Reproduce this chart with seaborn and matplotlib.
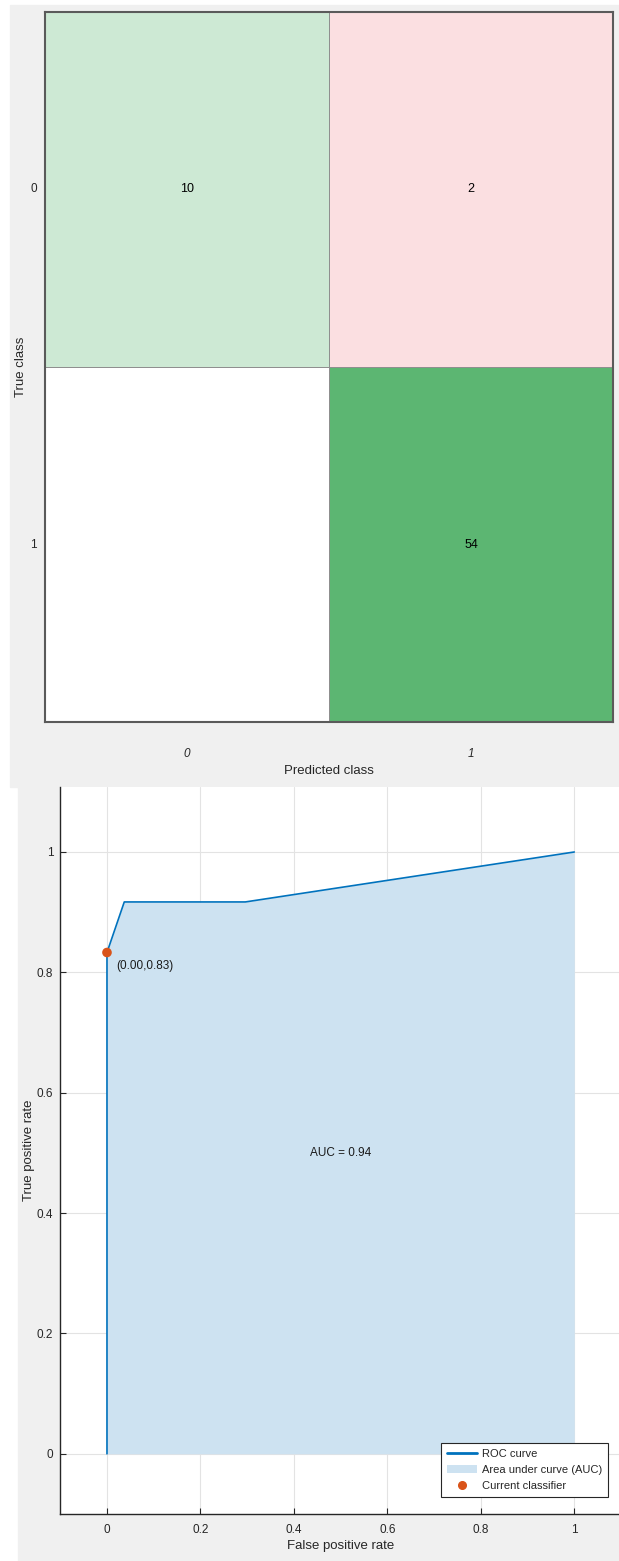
import numpy as np
import pandas as pd
import seaborn as sns
import matplotlib
matplotlib.use("Agg")
import matplotlib.pyplot as plt
from matplotlib.patches import Rectangle, Patch
from matplotlib.lines import Line2D
from matplotlib.colors import LinearSegmentedColormap, PowerNorm, Normalize

# ---- data ----
class_labels = ["0", "1"]
conf_counts = [[10, 2],
               [0, 54]]

roc_fpr = [0.0, 0.0, 0.037, 0.296, 1.0]
roc_tpr = [0.0, 0.833, 0.917, 0.917, 1.0]
current_point = (0.0, 0.833)
current_label = "(0.00,0.83)"
auc_value = 0.94
axis_ticks = [0, 0.2, 0.4, 0.6, 0.8, 1]
axis_ticklabels = ["0", "0.2", "0.4", "0.6", "0.8", "1"]

# ---- style ----
sns.set_style("white")
plt.rcParams["font.family"] = ["Liberation Sans Narrow", "Liberation Sans", "DejaVu Sans"]

W, H = 619, 1561
fig = plt.figure(figsize=(W / 100, H / 100), dpi=100)
fig.patch.set_facecolor("white")

def fx(px):
    return px / W

def fy(py):
    return 1 - py / H

panel_grey = "#f0f0f0"
fig.patches.append(Rectangle((fx(10), fy(787)), fx(619 - 10), (787 - 5) / H,
                             transform=fig.transFigure, color=panel_grey, zorder=-10))
fig.patches.append(Rectangle((fx(18), 0), fx(619 - 18), (1561 - 787) / H,
                             transform=fig.transFigure, color=panel_grey, zorder=-10))

# ---- confusion matrix ----
cm = pd.DataFrame(conf_counts, index=class_labels, columns=class_labels)
# zero cells stay blank
cm_text = cm.map(lambda v: "" if v == 0 else str(v)).values
diag_mask = ~np.eye(2, dtype=bool)
off_mask = np.eye(2, dtype=bool)

ax1 = fig.add_axes([fx(45), fy(722), fx(613 - 45), (722 - 12) / H])
green_cmap = LinearSegmentedColormap.from_list("diag", ["#ffffff", "#5cb672"])
red_cmap = LinearSegmentedColormap.from_list("offdiag", ["#ffffff", "#e63c46"])
common = dict(annot=cm_text, fmt="", cbar=False, linewidths=0.6, linecolor="#8f8f8f",
              annot_kws={"color": "black", "fontsize": 9}, square=False)
sns.heatmap(cm, mask=diag_mask, cmap=green_cmap, norm=PowerNorm(0.7, vmin=0, vmax=54),
            ax=ax1, **common)
sns.heatmap(cm, mask=off_mask, cmap=red_cmap, norm=Normalize(vmin=0, vmax=12),
            ax=ax1, **common)
for s in ax1.spines.values():
    s.set_visible(True)
    s.set_color("#5a5a5a")
    s.set_linewidth(1.5)
ax1.tick_params(axis="y", length=0, labelsize=8.5, pad=6)
ax1.tick_params(axis="x", length=0, labelsize=8.5, pad=19)
ax1.set_xticklabels(class_labels, rotation=0, fontstyle="italic")
ax1.set_yticklabels(class_labels, rotation=0)
ax1.set_xlabel("Predicted class", fontsize=9.5, labelpad=3)
ax1.set_ylabel("True class", fontsize=9.5, labelpad=2)

# ---- ROC curve ----
roc_blue = "#0072bd"
auc_fill = "#cde2f1"
orange = "#d95319"
ax2 = fig.add_axes([fx(60.25), fy(1514), fx(621 - 60.25), (1514 - 787) / H])
ax2.set_facecolor("white")
ax2.fill_between(roc_fpr, roc_tpr, 0, color=auc_fill, lw=0, zorder=1)
sns.lineplot(x=roc_fpr, y=roc_tpr, sort=False, estimator=None, color=roc_blue,
             lw=1.2, ax=ax2, zorder=3)
sns.scatterplot(x=[current_point[0]], y=[current_point[1]], color=orange, s=48,
                edgecolor="none", ax=ax2, zorder=4)
ax2.text(current_point[0] + 0.02, current_point[1] - 0.022, current_label,
         fontsize=8.5, ha="left", va="center", color="#1a1a1a")
ax2.text(0.5, 0.5, f"AUC = {auc_value:.2f}", fontsize=8.5, ha="center", va="center",
         color="#1a1a1a")

ax2.set_xlim(-0.1, 1.1)
ax2.set_ylim(-0.1, 1.108)
ax2.set_xticks(axis_ticks)
ax2.set_xticklabels(axis_ticklabels)
ax2.set_yticks(axis_ticks)
ax2.set_yticklabels(axis_ticklabels)
ax2.grid(True, color="#e3e3e3", lw=0.8, zorder=0)
ax2.set_axisbelow(True)
for side in ("top", "right"):
    ax2.spines[side].set_visible(False)
for side in ("left", "bottom"):
    ax2.spines[side].set_color("#262626")
    ax2.spines[side].set_linewidth(1.0)
ax2.tick_params(direction="in", length=4, width=0.8, color="#262626",
                labelsize=8.5, labelcolor="#262626", left=True, bottom=True, pad=7)
ax2.tick_params(axis="y", pad=5)
ax2.set_xlabel("False positive rate", fontsize=9.5, labelpad=3, color="#262626")
ax2.set_ylabel("True positive rate", fontsize=9.5, labelpad=1, color="#262626")

handles = [Line2D([], [], color=roc_blue, lw=2),
           Patch(facecolor=auc_fill, edgecolor="none"),
           Line2D([], [], marker="o", ls="none", color=orange, markersize=5.5)]
labels = ["ROC curve", "Area under curve (AUC)", "Current classifier"]
leg = ax2.legend(handles, labels, loc="lower right", fontsize=8,
                 bbox_to_anchor=(fx(608), fy(1497)), bbox_transform=fig.transFigure,
                 borderaxespad=0, fancybox=False, framealpha=1, edgecolor="#262626",
                 handlelength=2.7, handletextpad=0.4, labelspacing=0.55,
                 borderpad=0.55)
leg.get_frame().set_linewidth(0.8)

fig.savefig("out.png", dpi=100)
